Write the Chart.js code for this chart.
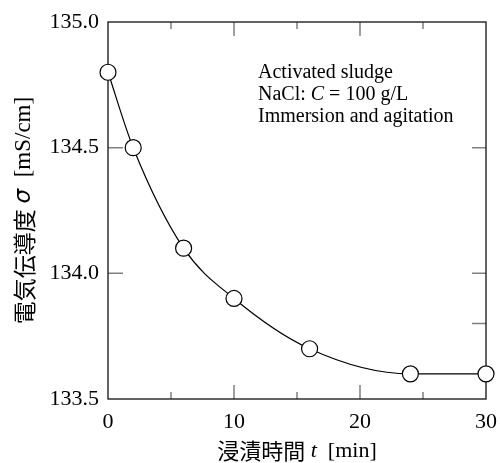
<!DOCTYPE html>
<html lang="ja">
<head>
  <meta charset="UTF-8" />
  <title>電気伝導度の経時変化</title>
  <script src="https://cdn.jsdelivr.net/npm/chart.js"></script>
  <style>
    body { margin: 0; background: #fff; }
    #wrap { width: 500px; height: 463px; }
  </style>
</head>
<body>
  <div id="wrap"><canvas id="chart"></canvas></div>
  <script>
    // values
    const timeMin = [0, 2, 6, 10, 16, 24, 30];
    const conductivity = [134.8, 134.5, 134.1, 133.9, 133.7, 133.6, 133.6];

    const xMajorTicks = [10, 20];
    const xMinorTicks = [5, 15, 25];
    const yLeftTicks = [134.0, 134.5];
    const yRightTicks = [133.8, 134.0, 134.5];

    const noteLines = [
      [['Activated sludge', '']],
      [['NaCl: ', ''], ['C', 'italic '], [' = 100 g/L', '']],
      [['Immersion and agitation', '']]
    ];

    const SERIF = '"Liberation Serif", "Times New Roman", serif';
    const JP = '"Noto Sans CJK JP", sans-serif';

    function drawRuns(ctx, runs, cx, cy) {
      let total = 0;
      runs.forEach(r => { ctx.font = r[1]; total += ctx.measureText(r[0]).width; });
      let x = cx - total / 2;
      ctx.textAlign = 'left';
      ctx.textBaseline = 'middle';
      runs.forEach(r => {
        ctx.font = r[1];
        ctx.fillText(r[0], x, cy);
        x += ctx.measureText(r[0]).width;
      });
    }

    const frameTicks = {
      id: 'frameTicks',
      beforeDatasetsDraw(chart) {
        const { ctx, chartArea: a, scales: { x, y } } = chart;
        ctx.save();
        ctx.strokeStyle = '#808080';
        ctx.lineWidth = 1.5;
        ctx.beginPath();
        const xt = (v, len) => {
          const px = x.getPixelForValue(v);
          ctx.moveTo(px, a.bottom); ctx.lineTo(px, a.bottom - len);
          ctx.moveTo(px, a.top); ctx.lineTo(px, a.top + len);
        };
        xMajorTicks.forEach(v => xt(v, 14));
        xMinorTicks.forEach(v => xt(v, 7));
        yLeftTicks.forEach(v => {
          const py = y.getPixelForValue(v);
          ctx.moveTo(a.left, py); ctx.lineTo(a.left + 15, py);
        });
        yRightTicks.forEach(v => {
          const py = y.getPixelForValue(v);
          ctx.moveTo(a.right, py); ctx.lineTo(a.right - 14, py);
        });
        ctx.stroke();
        ctx.strokeStyle = '#222';
        ctx.lineWidth = 1.4;
        ctx.strokeRect(a.left, a.top, a.right - a.left, a.bottom - a.top);
        ctx.restore();
      },
      afterDraw(chart) {
        const { ctx, chartArea: a } = chart;
        ctx.save();
        ctx.fillStyle = '#000';
        // annotation
        ctx.textAlign = 'left';
        ctx.textBaseline = 'alphabetic';
        noteLines.forEach((line, i) => {
          let x = 258;
          line.forEach(r => {
            ctx.font = r[1] + '20px ' + SERIF;
            ctx.fillText(r[0], x, 78 + i * 22);
            x += ctx.measureText(r[0]).width;
          });
        });
        // x axis title
        drawRuns(ctx, [
          ['浸漬時間', '22px ' + JP],
          [' ', '22px ' + SERIF],
          ['t', 'italic 22px ' + SERIF],
          ['  [min]', '22px ' + SERIF]
        ], (a.left + a.right) / 2, 451);
        // y axis title
        ctx.translate(24, (a.top + a.bottom) / 2);
        ctx.rotate(-Math.PI / 2);
        drawRuns(ctx, [
          ['電気伝導度', '23px ' + JP],
          [' ', '23px ' + SERIF],
          ['σ', 'italic 23px "DejaVu Sans", sans-serif'],
          ['  [mS/cm]', '23px ' + SERIF]
        ], 0, 0);
        ctx.restore();
      }
    };

    new Chart(document.getElementById('chart'), {
      type: 'line',
      data: {
        labels: timeMin,
        datasets: [{
          data: timeMin.map((t, i) => ({ x: t, y: conductivity[i] })),
          borderColor: '#000',
          borderWidth: 1.2,
          cubicInterpolationMode: 'monotone',
          pointRadius: 8,
          pointBackgroundColor: '#fff',
          pointBorderColor: '#000',
          pointBorderWidth: 1.2,
          clip: false,
          fill: false
        }]
      },
      options: {
        responsive: true,
        maintainAspectRatio: false,
        animation: false,
        events: [],
        layout: { padding: { left: 0, right: 14, top: 22, bottom: 0 } },
        plugins: { legend: { display: false }, tooltip: { enabled: false } },
        scales: {
          x: {
            type: 'linear',
            min: 0,
            max: 30,
            grid: { display: false, drawTicks: false },
            border: { display: false },
            ticks: {
              stepSize: 10,
              padding: 10,
              color: '#000',
              maxRotation: 0,
              font: { family: SERIF, size: 22 }
            },
            afterFit(s) { s.height = 64; s.paddingLeft = 0; s.paddingRight = 0; }
          },
          y: {
            min: 133.5,
            max: 135.0,
            grid: { display: false, drawTicks: false },
            border: { display: false },
            ticks: {
              stepSize: 0.5,
              padding: 9,
              color: '#000',
              font: { family: SERIF, size: 22 },
              callback: v => Number(v).toFixed(1)
            },
            afterFit(s) { s.width = 108; s.paddingTop = 0; s.paddingBottom = 0; }
          }
        }
      },
      plugins: [frameTicks]
    });
  </script>
</body>
</html>
